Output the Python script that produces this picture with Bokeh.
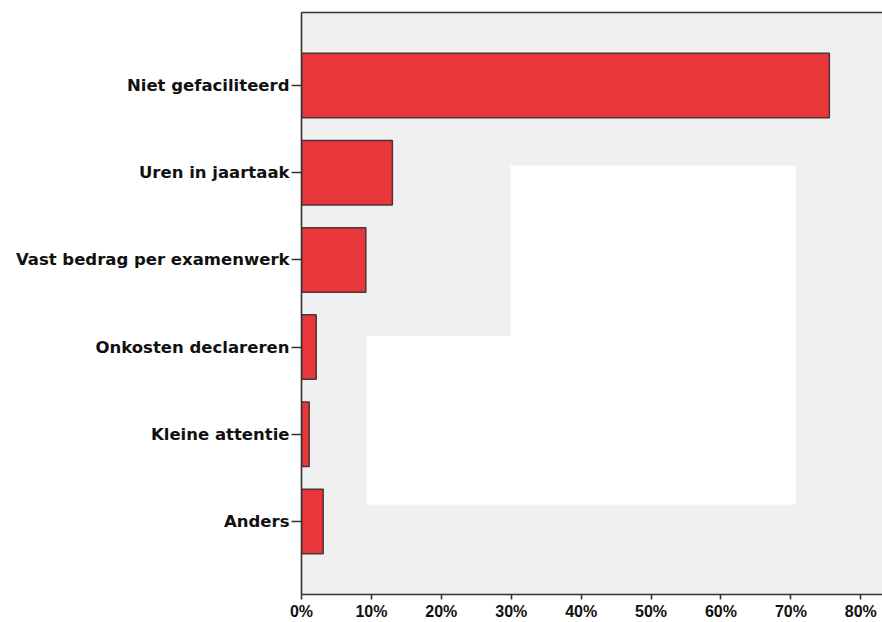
from bokeh.plotting import figure
from bokeh.models import FactorRange, Range1d, NumeralTickFormatter, FixedTicker, LinearAxis, BoxAnnotation
from bokeh.embed import file_html
from bokeh.resources import INLINE

categories = ["Niet gefaciliteerd", "Uren in jaartaak", "Vast bedrag per examenwerk",
              "Onkosten declareren", "Kleine attentie", "Anders"]
percentages = [75.5, 13.0, 9.2, 2.1, 1.1, 3.1]
x_ticks = [0, 10, 20, 30, 40, 50, 60, 70, 80]

y_range = FactorRange(factors=list(reversed(categories)),
                      range_padding=0.339, range_padding_units="absolute")

p = figure(width=882, height=622, y_range=y_range, x_range=Range1d(0, 83.1),
           output_backend="svg", toolbar_location=None,
           min_border_left=301, min_border_right=0, min_border_top=12, min_border_bottom=0)

p.background_fill_color = "#f0f0f0"
p.border_fill_color = "white"
p.outline_line_color = None
p.grid.visible = False

# white patch present in the reference image (synthetic categorical coordinates)
p.add_layout(BoxAnnotation(left=29.9, right=70.7, top=4.58, bottom=2.626,
                           fill_color="white", fill_alpha=1, line_color=None, level="underlay"))
p.add_layout(BoxAnnotation(left=9.3, right=70.7, top=2.626, bottom=0.695,
                           fill_color="white", fill_alpha=1, line_color=None, level="underlay"))

p.hbar(y=categories, right=percentages, left=0, height=0.74,
       fill_color="#e8363b", line_color="#4a3535", line_width=1.5)

axis_color = "#333333"
p.xaxis.ticker = FixedTicker(ticks=x_ticks)
p.xaxis.formatter = NumeralTickFormatter(format="0")
p.xaxis.major_label_overrides = {t: f"{t}%" for t in x_ticks}
p.xaxis.major_label_text_font = "Liberation Sans"
p.xaxis.major_label_text_font_style = "bold"
p.xaxis.major_label_text_font_size = "16px"
p.xaxis.major_label_text_color = "#111111"
p.xaxis.major_label_standoff = 3
p.xaxis.major_tick_out = 5
p.xaxis.major_tick_in = 0
p.xaxis.minor_tick_line_color = None
p.xaxis.axis_line_color = axis_color
p.xaxis.axis_line_width = 1.6
p.xaxis.major_tick_line_color = axis_color
p.xaxis.major_tick_line_width = 1.6

p.yaxis.major_label_text_font = "DejaVu Sans"
p.yaxis.major_label_text_font_style = "bold"
p.yaxis.major_label_text_font_size = "16.5px"
p.yaxis.major_label_text_color = "#111111"
p.yaxis.major_label_standoff = 2
p.yaxis.major_tick_out = 10
p.yaxis.major_tick_in = 0
p.yaxis.axis_line_color = axis_color
p.yaxis.axis_line_width = 1.6
p.yaxis.major_tick_line_color = axis_color
p.yaxis.major_tick_line_width = 1.6

top_axis = LinearAxis(ticker=FixedTicker(ticks=[]), axis_line_color=axis_color,
                      axis_line_width=1.6, major_tick_line_color=None,
                      minor_tick_line_color=None, major_label_text_font_size="0px",
                      major_label_standoff=0)
p.add_layout(top_axis, "above")

open("out.html", "w").write(file_html(p, INLINE))
